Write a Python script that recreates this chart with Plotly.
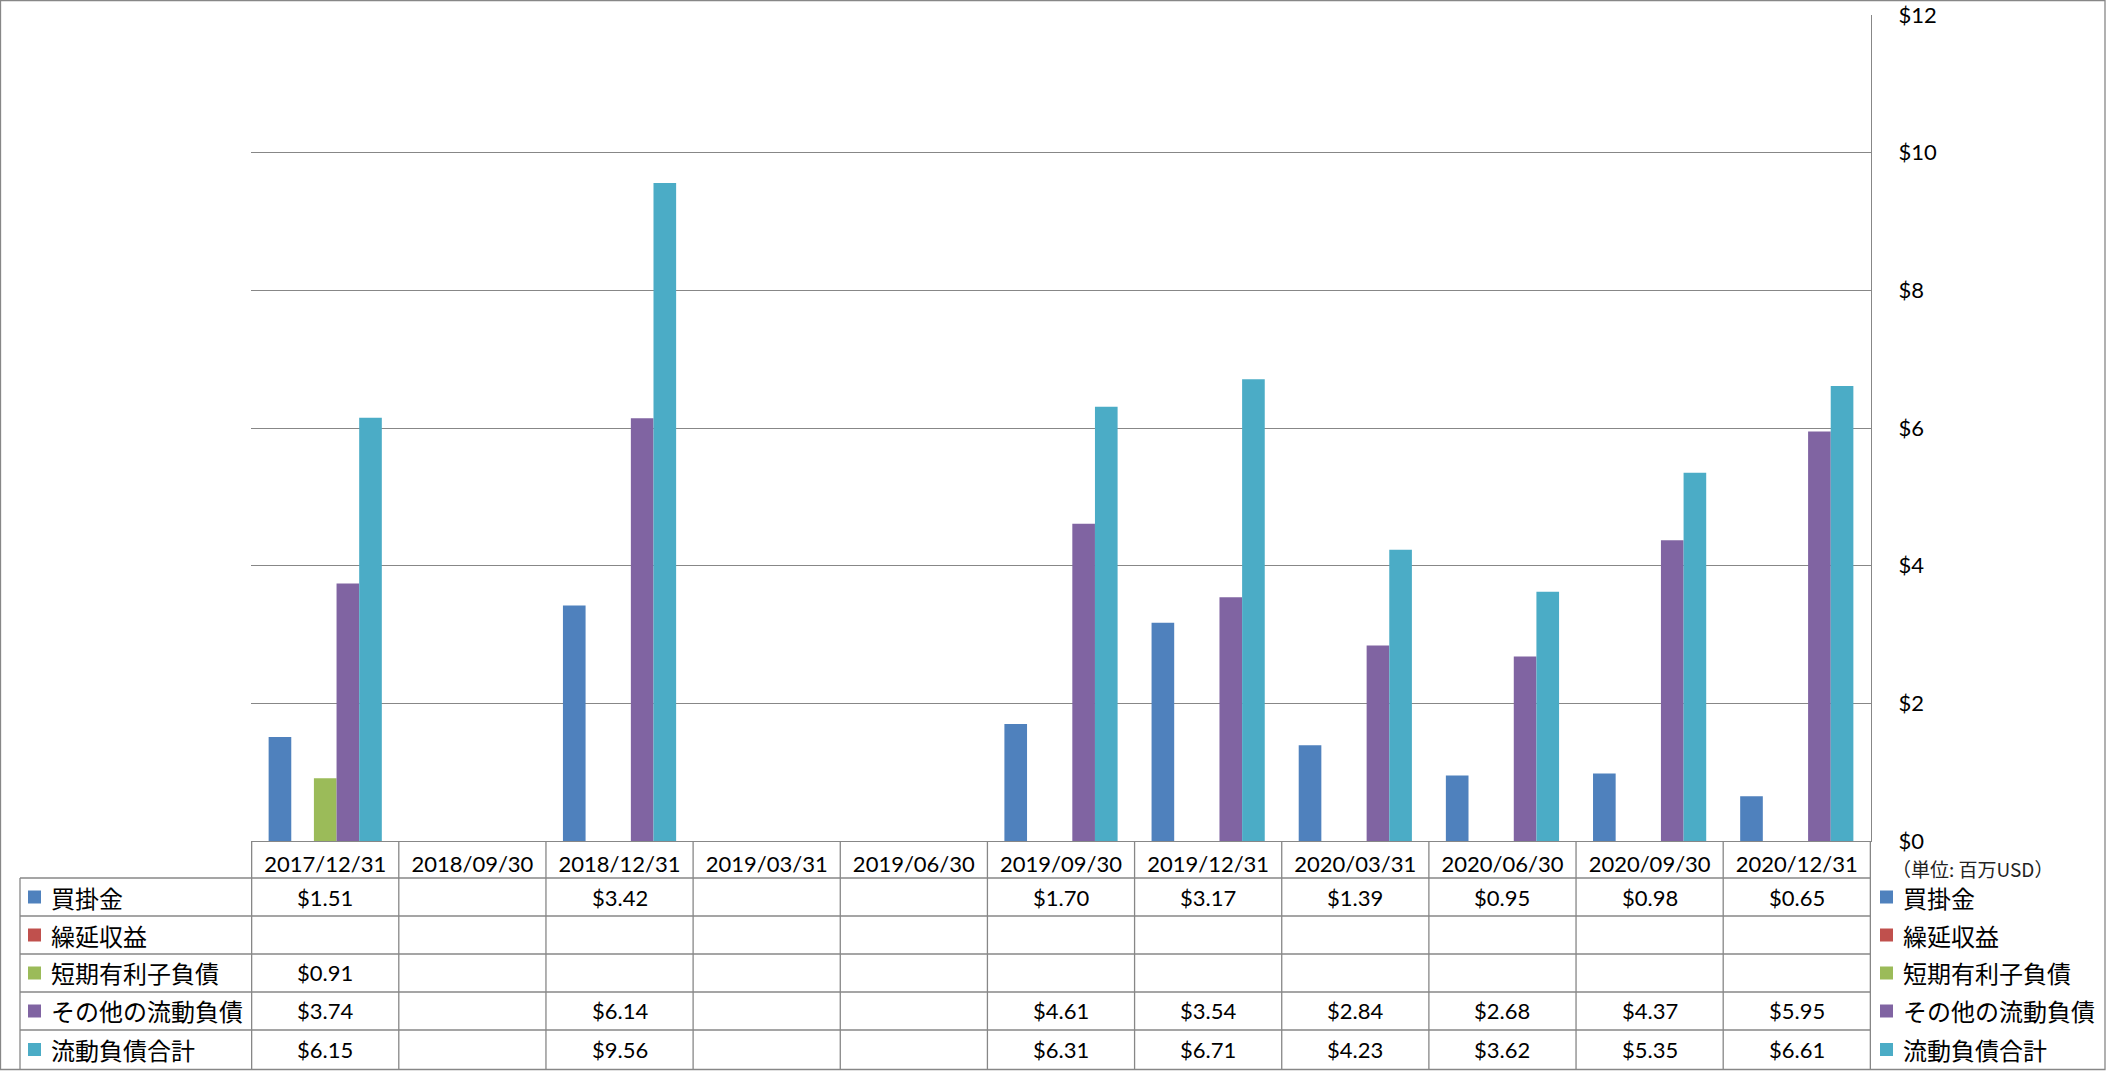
import plotly.graph_objects as go

# ---------------- data ----------------
dates = ["2017/12/31", "2018/09/30", "2018/12/31", "2019/03/31", "2019/06/30",
         "2019/09/30", "2019/12/31", "2020/03/31", "2020/06/30", "2020/09/30", "2020/12/31"]
series_names = ["買掛金", "繰延収益", "短期有利子負債", "その他の流動負債", "流動負債合計"]
accounts_payable = [1.51, None, 3.42, None, None, 1.70, 3.17, 1.39, 0.95, 0.98, 0.65]
deferred_revenue = [None, None, None, None, None, None, None, None, None, None, None]
short_term_debt = [0.91, None, None, None, None, None, None, None, None, None, None]
other_current = [3.74, None, 6.14, None, None, 4.61, 3.54, 2.84, 2.68, 4.37, 5.95]
total_current = [6.15, None, 9.56, None, None, 6.31, 6.71, 4.23, 3.62, 5.35, 6.61]
series_values = [accounts_payable, deferred_revenue, short_term_debt, other_current, total_current]
colors = ["#4F81BD", "#C0504D", "#9BBB59", "#8064A2", "#4BACC6"]
y_ticks = [0, 2, 4, 6, 8, 10, 12]
y_tick_labels = ["$0", "$2", "$4", "$6", "$8", "$10", "$12"]
unit_label = "（単位: 百万USD）"

# ---------------- layout geometry ----------------
W, H = 2106, 1071
L, R, T, B = 251, 1871, 15, 841          # plot area in pixels
GRID = "#878787"
LW = 1.3
LAT = "Lato, 'Noto Sans', sans-serif"
JP = "'Noto Sans CJK JP', sans-serif"


def px(p):
    return (p - L) / (R - L)


def py(p):
    return (B - p) / (B - T)


row_edges = [878, 916, 954, 992, 1030, 1069]
row_centers = [(row_edges[i] + row_edges[i + 1]) / 2 for i in range(5)]

fig = go.Figure()
for name, vals, col in zip(series_names, series_values, colors):
    fig.add_trace(go.Bar(
        x=dates, y=vals, name=name, marker=dict(color=col, line=dict(width=0)),
        hoverinfo="skip", showlegend=False,
    ))

shapes = []
# table horizontal lines
for ye in row_edges[:-1]:
    shapes.append(dict(type="line", xref="paper", yref="paper",
                       x0=px(20), x1=1, y0=py(ye), y1=py(ye),
                       line=dict(color=GRID, width=LW)))
# left legend column vertical line
shapes.append(dict(type="line", xref="paper", yref="paper",
                   x0=px(20), x1=px(20), y0=py(878), y1=py(1069),
                   line=dict(color=GRID, width=LW)))
# category boundaries through the table
for k in range(len(dates) + 1):
    shapes.append(dict(type="line", xref="x", yref="paper",
                       x0=k - 0.5, x1=k - 0.5, y0=py(B), y1=py(1069),
                       line=dict(color=GRID, width=LW)))
# outer chart border
shapes.append(dict(type="rect", xref="paper", yref="paper",
                   x0=px(0.5), x1=px(W - 1), y0=py(0.5), y1=py(1069.5),
                   line=dict(color=GRID, width=LW), fillcolor="rgba(0,0,0,0)"))
# legend keys in table (left) and legend on the right
for rc, col in zip(row_centers, colors):
    for x0 in (28, 1880):
        shapes.append(dict(type="rect", xref="paper", yref="paper",
                           x0=px(x0), x1=px(x0 + 13), y0=py(rc - 6.5), y1=py(rc + 6.5),
                           line=dict(width=0), fillcolor=col))

annotations = []
for rc, name, vals in zip(row_centers, series_names, series_values):
    for xl in (49, 1901):
        annotations.append(dict(xref="paper", yref="paper", x=px(xl), y=py(rc),
                                xanchor="left", yanchor="middle", text=name, showarrow=False,
                                font=dict(family=JP, size=24, color="black")))
    for d, v in zip(dates, vals):
        if v is None:
            continue
        annotations.append(dict(xref="x", yref="paper", x=d, y=py(rc),
                                xanchor="center", yanchor="middle", text=f"${v:.2f}",
                                showarrow=False, font=dict(family=LAT, size=22, color="black")))
annotations.append(dict(xref="paper", yref="paper", x=px(1890), y=py(868),
                        xanchor="left", yanchor="middle", text=unit_label, showarrow=False,
                        font=dict(family=JP, size=19, color="#222")))

fig.update_layout(
    width=W, height=H, autosize=False,
    margin=dict(l=L, r=W - R, t=T, b=H - B, pad=0),
    paper_bgcolor="white", plot_bgcolor="white",
    barmode="group", bargap=0.2308, bargroupgap=0,
    showlegend=False,
    shapes=shapes, annotations=annotations,
    xaxis=dict(type="category", showline=True, linecolor=GRID, linewidth=LW,
               showgrid=False, ticks="", tickfont=dict(family=LAT, size=22, color="black"),
               ticklabelstandoff=3, automargin=False),
    yaxis=dict(side="right", range=[0, 12], tickvals=y_ticks, ticktext=y_tick_labels,
               showline=True, linecolor=GRID, linewidth=LW, showgrid=True,
               gridcolor=GRID, gridwidth=LW, zeroline=False, ticks="",
               tickfont=dict(family=LAT, size=22, color="black"), ticklabelstandoff=22,
               automargin=False),
)

fig.write_html("out.html")
